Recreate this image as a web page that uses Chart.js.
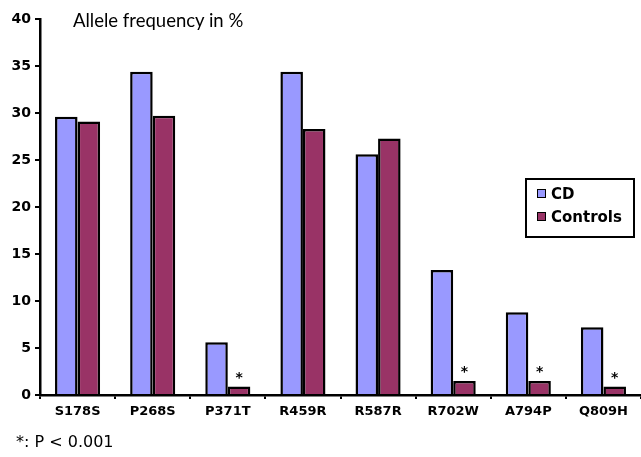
<!DOCTYPE html>
<html>
<head>
    <title> Allele frequency </title>
    <script src="https://cdn.jsdelivr.net/npm/chart.js@4.4.3/dist/chart.umd.js"></script>
</head>

<body>
    <div id="wrap">
        <canvas id="alleleChart" width="641" height="457"></canvas>
        <div id="title">Allele frequency in %</div>
        <div id="legend"></div>
        <div id="note">*: P &lt; 0.001</div>
    </div>

    <script>
        const variants = ['S178S', 'P268S', 'P371T', 'R459R', 'R587R', 'R702W', 'A794P', 'Q809H'];
        const cdValues = [29.6, 34.4, 5.6, 34.4, 25.6, 13.3, 8.8, 7.2];
        const controlValues = [29.1, 29.7, 0.9, 28.3, 27.3, 1.5, 1.5, 0.9];
        const significant = [false, false, true, false, false, true, true, true];
        const yTicks = [0, 5, 10, 15, 20, 25, 30, 35, 40];

        const labelFont = 'DejaVu Sans, Verdana, sans-serif';

        // stars over the control bars that differ significantly
        const starPlugin = {
            id: 'stars',
            afterDatasetsDraw(chart) {
                const ctx = chart.ctx;
                const meta = chart.getDatasetMeta(1);
                ctx.save();
                ctx.fillStyle = '#000';
                ctx.font = 'bold 14px ' + labelFont;
                ctx.textAlign = 'center';
                ctx.textBaseline = 'alphabetic';
                meta.data.forEach((bar, i) => {
                    if (significant[i]) ctx.fillText('*', bar.x, bar.y - 5);
                });
                ctx.restore();
            }
        };

        const chart = new Chart(document.getElementById('alleleChart'), {
            type: 'bar',
            data: {
                labels: variants,
                datasets: [{
                    label: 'CD',
                    data: cdValues,
                    backgroundColor: '#9999ff',
                    borderColor: '#000',
                    borderWidth: 2.5,
                    categoryPercentage: 0.6,
                    barPercentage: 1
                }, {
                    label: 'Controls',
                    data: controlValues,
                    backgroundColor: '#993366',
                    borderColor: '#000',
                    borderWidth: 2.5,
                    categoryPercentage: 0.6,
                    barPercentage: 1
                }]
            },
            options: {
                responsive: false,
                animation: false,
                layout: { padding: { top: 19, right: 0, left: 0, bottom: 0 } },
                plugins: {
                    legend: { display: false },
                    tooltip: { enabled: false }
                },
                scales: {
                    x: {
                        grid: { drawOnChartArea: false, color: '#000', tickLength: 4, lineWidth: 2 },
                        border: { color: '#000', width: 2.5 },
                        ticks: {
                            color: '#000',
                            padding: 5,
                            maxRotation: 0,
                            font: { family: labelFont, size: 13, weight: 'bold' }
                        },
                        afterFit(scale) { scale.height = 62; }
                    },
                    y: {
                        min: 0,
                        max: 40,
                        afterBuildTicks(scale) { scale.ticks = yTicks.map(v => ({ value: v })); },
                        grid: { drawOnChartArea: false, color: '#000', tickLength: 5, lineWidth: 2 },
                        border: { color: '#000', width: 2.5 },
                        ticks: {
                            color: '#000',
                            padding: 4,
                            font: { family: labelFont, size: 14, weight: 'bold' }
                        },
                        afterFit(scale) { scale.width = 40; }
                    }
                }
            },
            plugins: [starPlugin]
        });

        const legend = document.getElementById('legend');
        chart.data.datasets.forEach(ds => {
            const row = document.createElement('div');
            row.className = 'row';
            const box = document.createElement('span');
            box.className = 'box';
            box.style.background = ds.backgroundColor;
            row.appendChild(box);
            row.appendChild(document.createTextNode(ds.label));
            legend.appendChild(row);
        });
    </script>
</body>

<style>
    html, body {
        margin: 0;
        padding: 0;
        background: #fff;
    }

    #wrap {
        position: relative;
        width: 641px;
        height: 457px;
    }

    #title {
        position: absolute;
        left: 73px;
        top: 9px;
        font-family: Lato, 'Open Sans', sans-serif;
        font-size: 18.5px;
        color: #000;
    }

    #legend {
        position: absolute;
        left: 525px;
        top: 178px;
        width: 106px;
        height: 56px;
        border: 2px solid #000;
        font-family: 'DejaVu Sans', Verdana, sans-serif;
        font-size: 15px;
        font-weight: bold;
        color: #000;
    }

    #legend .row {
        height: 17px;
        margin: 6px 0 5px 10px;
        line-height: 17px;
    }

    #legend .box {
        display: inline-block;
        width: 7px;
        height: 7px;
        border: 1.5px solid #000;
        margin-right: 5px;
        vertical-align: 1px;
    }

    #note {
        position: absolute;
        left: 16px;
        top: 432px;
        font-family: 'DejaVu Sans', Verdana, sans-serif;
        font-size: 16px;
        color: #000;
    }
</style>
</html>
